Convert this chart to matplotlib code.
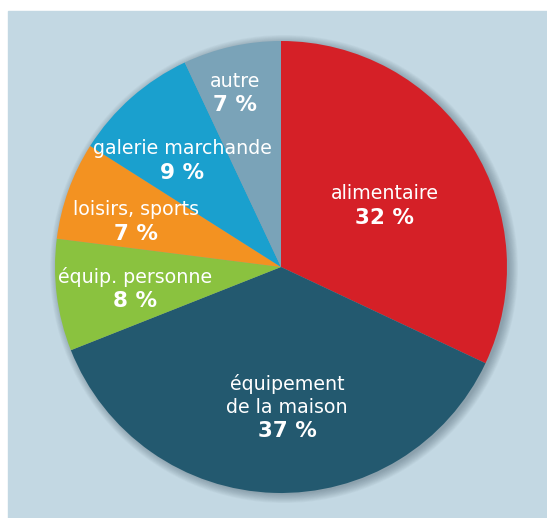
import numpy as np
import matplotlib.pyplot as plt
from matplotlib.patches import Circle, Rectangle

# slice data, clockwise from 12 o'clock
categories = ["alimentaire", "équipement\nde la maison", "équip. personne",
              "loisirs, sports", "galerie marchande", "autre"]
shares = [32, 37, 8, 7, 9, 7]
pct_labels = ["32 %", "37 %", "8 %", "7 %", "9 %", "7 %"]
colors = ["#D52027", "#23596F", "#8AC23F", "#F39221", "#1AA0CE", "#7AA3B8"]

# label block placement: fraction of radius and small turn from the mid-angle
label_radius = [0.534, 0.622, 0.653, 0.673, 0.643, 0.796]
label_turn = [-1.8, 4.2, 1.2, 2.4, 1.5, 2.2]

W, H = 547, 518
fig = plt.figure(figsize=(W / 100, H / 100), dpi=100, facecolor="white")
ax = fig.add_axes([0, 0, 1, 1])

cx, cy, R = 281, 251, 226

wedges, _ = ax.pie(shares, colors=colors, startangle=90, counterclock=False,
                   center=(cx, cy), radius=R, frame=True,
                   wedgeprops=dict(linewidth=0, zorder=2))
ax.set_xlim(0, W)
ax.set_ylim(0, H)
ax.set_aspect("equal")
ax.axis("off")

# light blue panel (white strip on top and left)
ax.add_patch(Rectangle((8, 0), W - 8, H - 11, color="#C3D8E3", zorder=0))

# soft shadow round the pie, a little heavier to the lower right
for i in range(12):
    ax.add_patch(Circle((cx + 3, cy - 2), R + 8 - i * 0.8,
                        color="#3E5663", alpha=0.04, lw=0, zorder=1))

line_h = 24
for w, name, pct, rf, turn in zip(wedges, categories, pct_labels,
                                  label_radius, label_turn):
    mid = np.deg2rad((w.theta1 + w.theta2) / 2 + turn)
    x = cx + rf * R * np.cos(mid)
    y = cy + rf * R * np.sin(mid)
    n_lines = name.count("\n") + 1
    top = y + n_lines * line_h / 2
    ax.text(x, top - (n_lines - 1) * line_h / 2, name, ha="center", va="center",
            color="white", fontsize=13.7, linespacing=1.25, zorder=3)
    ax.text(x, top - n_lines * line_h, pct, ha="center", va="center",
            color="white", fontsize=15.5, fontweight="bold", zorder=3)

fig.savefig("out.png", dpi=100, facecolor=fig.get_facecolor())
